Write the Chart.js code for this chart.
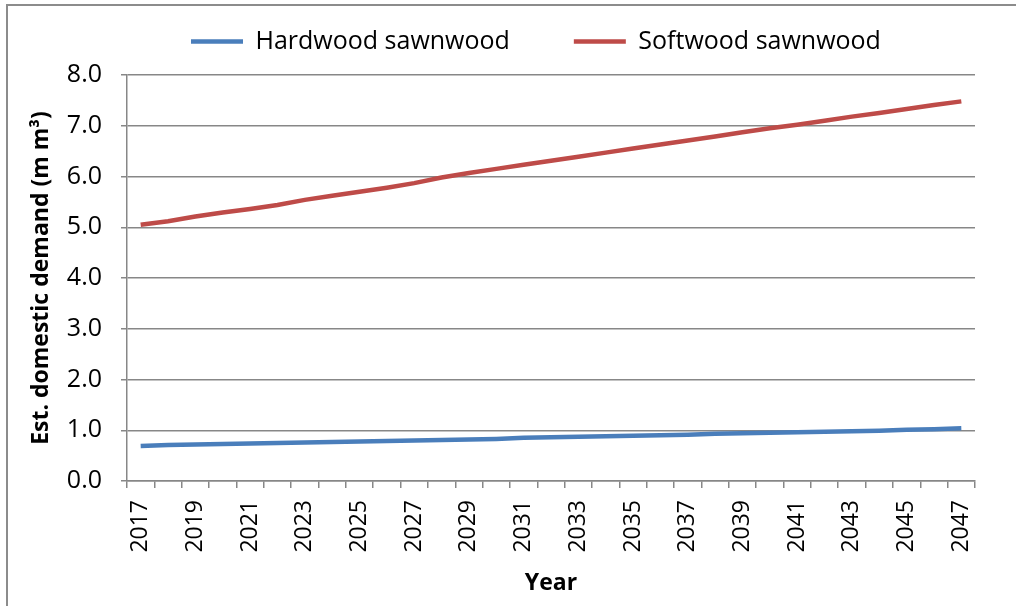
<!DOCTYPE html>
<html>
<head>
<meta charset="utf-8">
<script src="https://cdn.jsdelivr.net/npm/chart.js@4/dist/chart.umd.min.js"></script>
<style>
  html, body { margin: 0; padding: 0; background: #fff; }
  #wrap { position: relative; width: 1016px; height: 606px; overflow: hidden; }
  #frame { position: absolute; left: 6px; top: 4px; width: 1030px; height: 620px; border: 2px solid #8c8c8c; pointer-events: none; }
</style>
</head>
<body>
<div id="wrap">
  <canvas id="demandChart" width="1016" height="606"></canvas>
  <div id="frame"></div>
</div>
<script>
// years 2017..2047
const years = ['2017','2018','2019','2020','2021','2022','2023','2024','2025','2026','2027','2028','2029','2030','2031','2032',
               '2033','2034','2035','2036','2037','2038','2039','2040','2041','2042','2043','2044','2045','2046','2047'];

const hardwood = [0.69, 0.71, 0.72, 0.73, 0.74, 0.75, 0.76, 0.77, 0.78, 0.79, 0.80, 0.81, 0.82, 0.83, 0.85, 0.86,
                  0.87, 0.88, 0.89, 0.90, 0.91, 0.93, 0.94, 0.95, 0.96, 0.97, 0.98, 0.99, 1.01, 1.02, 1.04];

const softwood = [5.05, 5.12, 5.21, 5.29, 5.36, 5.44, 5.54, 5.62, 5.70, 5.78, 5.87, 5.98, 6.07, 6.15, 6.23, 6.31,
                  6.39, 6.47, 6.55, 6.63, 6.71, 6.79, 6.87, 6.95, 7.02, 7.10, 7.18, 7.25, 7.33, 7.41, 7.48];

const yTicks = [0, 1, 2, 3, 4, 5, 6, 7, 8];

const gridGrey = '#878787';
const font = "'Open Sans', sans-serif";

// legend spacing comes from labels.padding, so pin its height here
const legendFit = {
    id: 'legendFit',
    afterInit(chart) {
        const lg = chart.legend;
        const fit = lg.fit;
        lg.fit = function () {
            fit.call(this);
            this.height = 110;
        };
    }
};

const ctx = document.getElementById('demandChart').getContext('2d');
new Chart(ctx, {
    type: 'line',
    data: {
        labels: years,
        datasets: [
            {
                label: 'Hardwood sawnwood',
                data: hardwood,
                borderColor: '#4a7ebb',
                backgroundColor: '#4a7ebb',
                borderWidth: 4.5,
                pointRadius: 0,
                tension: 0
            },
            {
                label: 'Softwood sawnwood',
                data: softwood,
                borderColor: '#be4b48',
                backgroundColor: '#be4b48',
                borderWidth: 4.5,
                pointRadius: 0,
                tension: 0
            }
        ]
    },
    plugins: [legendFit],
    options: {
        responsive: false,
        animation: false,
        layout: { padding: { left: 8, right: 41, top: -35, bottom: 0 } },
        plugins: {
            tooltip: { enabled: false },
            legend: {
                position: 'top',
                fullSize: false,
                align: 'start',
                labels: {
                    usePointStyle: true,
                    pointStyle: 'line',
                    pointStyleWidth: 52,
                    boxHeight: 5,
                    padding: 64,
                    color: '#000',
                    font: { family: font, size: 25 }
                }
            }
        },
        scales: {
            x: {
                offset: true,
                grid: {
                    offset: true,
                    drawOnChartArea: false,
                    tickLength: 7,
                    color: gridGrey,
                    lineWidth: 1.5
                },
                border: { color: gridGrey, width: 1.5 },
                ticks: {
                    autoSkip: false,
                    minRotation: 90,
                    maxRotation: 90,
                    color: '#000',
                    padding: 12,
                    font: { family: font, size: 23 },
                    callback: function (v, i) { return i % 2 === 0 ? years[i] : ''; }
                },
                title: {
                    display: true,
                    text: 'Year',
                    color: '#000',
                    padding: { top: 0, bottom: 9 },
                    font: { family: font, size: 23, weight: 'bold' }
                },
                afterFit: function (s) { s.height = 125; }
            },
            y: {
                min: 0,
                max: 8,
                afterBuildTicks: function (s) { s.ticks = yTicks.map(v => ({ value: v })); },
                grid: {
                    color: gridGrey,
                    lineWidth: 1.5,
                    tickLength: 6
                },
                border: { color: gridGrey, width: 1.5 },
                ticks: {
                    color: '#000',
                    padding: 19,
                    font: { family: font, size: 25 },
                    callback: function (v) { return v.toFixed(1); }
                },
                title: {
                    display: true,
                    text: 'Est. domestic demand (m m³)',
                    color: '#000',
                    padding: { top: 20, bottom: 0 },
                    font: { family: font, size: 23, weight: 'bold' }
                },
                afterFit: function (s) { s.width = 119; }
            }
        }
    }
});
</script>
</body>
</html>
